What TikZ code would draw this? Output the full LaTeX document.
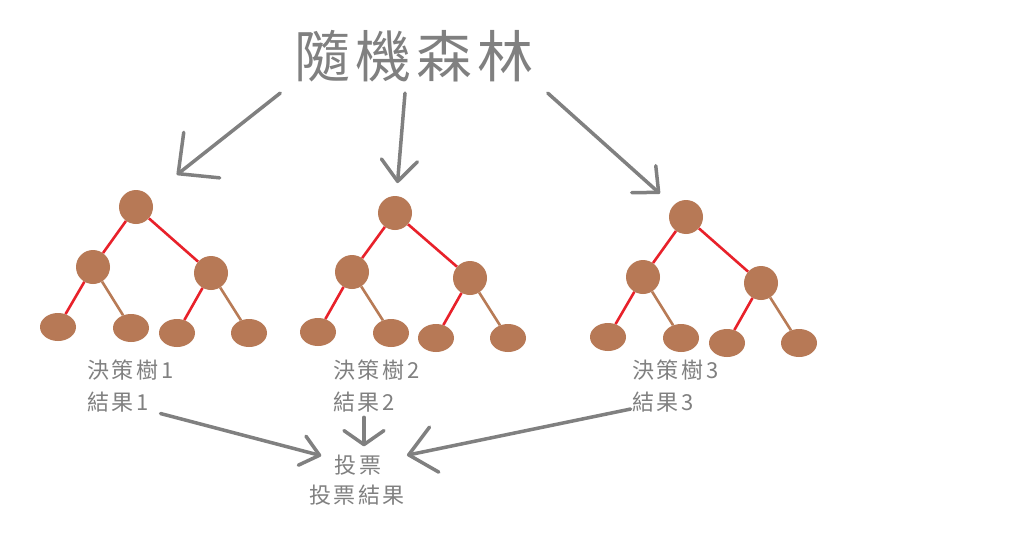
\documentclass[tikz,border=0pt]{standalone}
\usepackage{fontspec}
\usepackage{tikz}
\usetikzlibrary{arrows.meta, positioning, shapes.geometric}
\newfontfamily\titlefont[LetterSpace=9]{Noto Sans CJK TC}
\newfontfamily\labelfont[LetterSpace=12]{Noto Sans CJK TC}
\definecolor{NodeBrown}{HTML}{B77956}
\definecolor{EdgeRed}{HTML}{E8212A}
\definecolor{EdgeBrown}{HTML}{B87B56}
\definecolor{InkGray}{HTML}{808080}

\begin{document}
\begin{tikzpicture}[x=1pt, y=-1pt,
    split/.style={circle, fill=NodeBrown, minimum size=34pt, inner sep=0pt},
    leaf/.style={ellipse, fill=NodeBrown, minimum width=36pt, minimum height=28pt, inner sep=0pt},
    redge/.style={draw=EdgeRed, line width=2.6pt},
    bedge/.style={draw=EdgeBrown, line width=2.6pt},
    pointer/.style 2 args={draw=InkGray, line width=3.5pt, line cap=round, -{Straight Barb[length=#1, width=#2, round]}},
    heading/.style={font=\titlefont\fontsize{56}{60}\selectfont, text=InkGray, inner xsep=14pt, inner ysep=11pt},
    caption/.style={font=\labelfont\fontsize{22}{24}\selectfont, text=InkGray, inner sep=0pt, anchor=north west}
]
\useasboundingbox[fill=white] (0,0) rectangle (1024,535);

% === Title ===
\node[heading] (title) at (414,56) {隨機森林};

% === Tree 1 ===
\node[split] (t1r) at (136,207) {};
\node[split] (t1a) at (93,267) {};
\node[split] (t1b) at (211,273) {};
\node[leaf] (t1l1) at (58,327) {};
\node[leaf] (t1l2) at (131,328) {};
\node[leaf] (t1l3) at (177,333) {};
\node[leaf] (t1l4) at (249,333) {};
\draw[redge] (t1r) -- (t1a);
\draw[redge] (t1r) -- (t1b);
\draw[redge] (t1a) -- (t1l1);
\draw[bedge] (t1a) -- (t1l2);
\draw[redge] (t1b) -- (t1l3);
\draw[bedge] (t1b) -- (t1l4);

% === Tree 2 ===
\node[split] (t2r) at (395,213) {};
\node[split] (t2a) at (352,272) {};
\node[split] (t2b) at (470,278) {};
\node[leaf] (t2l1) at (318,332) {};
\node[leaf] (t2l2) at (391,333) {};
\node[leaf] (t2l3) at (436,338) {};
\node[leaf] (t2l4) at (508,338) {};
\draw[redge] (t2r) -- (t2a);
\draw[redge] (t2r) -- (t2b);
\draw[redge] (t2a) -- (t2l1);
\draw[bedge] (t2a) -- (t2l2);
\draw[redge] (t2b) -- (t2l3);
\draw[bedge] (t2b) -- (t2l4);

% === Tree 3 ===
\node[split] (t3r) at (686,217) {};
\node[split] (t3a) at (643,277) {};
\node[split] (t3b) at (761,283) {};
\node[leaf] (t3l1) at (608,337) {};
\node[leaf] (t3l2) at (681,338) {};
\node[leaf] (t3l3) at (727,343) {};
\node[leaf] (t3l4) at (799,343) {};
\draw[redge] (t3r) -- (t3a);
\draw[redge] (t3r) -- (t3b);
\draw[redge] (t3a) -- (t3l1);
\draw[bedge] (t3a) -- (t3l2);
\draw[redge] (t3b) -- (t3l3);
\draw[bedge] (t3b) -- (t3l4);

% === Captions ===
\node[caption] (d1) at (87,360) {決策樹1};
\node[caption] (r1) at (87,392) {結果1};
\node[caption] (d2) at (333,360) {決策樹2};
\node[caption] (r2) at (333,392) {結果2};
\node[caption] (d3) at (632,360) {決策樹3};
\node[caption] (r3) at (632,392) {結果3};
\node[caption, anchor=north] (vote) at (358,455) {投票};
\node[caption, anchor=north] (result) at (357,485) {投票結果};

% Title to trees
\draw[pointer={30pt}{58pt}, shorten >=52pt] (title.south west) -- (t1r.center);
\draw[pointer={21pt}{36pt}, shorten >=30pt] ([xshift=-9pt]title.south) -- (t2r.center);
\draw[pointer={20pt}{36pt}, shorten >=35pt] (title.south east) -- (t3r.center);

% Results to vote
\draw[pointer={18pt}{30pt}, shorten <=44pt, shorten >=38pt] (r1.center) -- (vote.center);
\draw[pointer={14pt}{40pt}, shorten <=15pt, shorten >=19pt] (r2.center) -- (r2.center |- vote.center);
\draw[pointer={26pt}{46pt}, shorten <=33pt, shorten >=50pt] (r3.center) -- (vote.center);
\end{tikzpicture}
\end{document}
